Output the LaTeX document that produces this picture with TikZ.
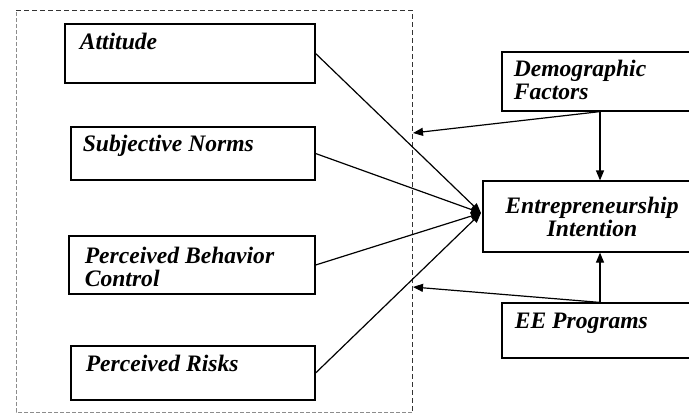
\documentclass[tikz,border=0pt]{standalone}
\usepackage{fontspec}
\setmainfont{Liberation Serif}
\usetikzlibrary{arrows.meta}

\tikzset{
	box/.style={draw, line width=0.6pt, inner sep=0pt},
	boxtext/.style={anchor=north west, inner sep=0pt, align=left,
		font=\fontsize{11.8}{11.5}\selectfont\bfseries\itshape},
	flow/.style={line width=0.6pt, -{Triangle[length=5pt,width=4pt]}},
}

\begin{document}
\begin{tikzpicture}[x=0.5pt, y=-0.5pt]
	\useasboundingbox (0,0) rectangle (689,414);
	\clip (0,0) rectangle (689,414);

	% dashed frame round the four factors
	\draw[black!45, dashed, dash pattern=on 2pt off 1pt, line width=0.5pt] (412,412) -- (16,412) -- (16,10);
	\draw[black!80, dashed, dash pattern=on 2.5pt off 1.5pt, line width=0.5pt] (16,10) -- (412,10) -- (412,412);

	% left boxes
	\node[box, minimum width=125pt, minimum height=29.5pt] (att) at (190,53.5) {};
	\node[boxtext] (att-t) at ([shift={(15,9)}]att.north west) {Attitude};

	\node[box, minimum width=122pt, minimum height=26.5pt] (sn) at (193,153.5) {};
	\node[boxtext] (sn-t) at ([shift={(12,8)}]sn.north west) {Subjective Norms};

	\node[box, minimum width=123pt, minimum height=29pt] (pbc) at (192,265) {};
	\node[boxtext] (pbc-t) at ([shift={(16,11)}]pbc.north west) {Perceived Behavior\\Control};

	\node[box, minimum width=122pt, minimum height=27pt] (pr) at (193,373) {};
	\node[boxtext] (pr-t) at ([shift={(15,9)}]pr.north west) {Perceived Risks};

	% right boxes
	\node[box, minimum width=98pt, minimum height=29.5pt] (demo) at (600,81.5) {};
	\node[boxtext] (demo-t) at ([shift={(12,8)}]demo.north west) {Demographic\\Factors};

	\node[box, minimum width=109pt, minimum height=35.5pt, align=center,
		font=\fontsize{11.8}{11.5}\selectfont\bfseries\itshape] (ei) at (592,216.5) {Entrepreneurship\\Intention};

	\node[box, minimum width=98pt, minimum height=27.5pt] (ee) at (600,330.5) {};
	\node[boxtext] (ee-t) at ([shift={(13,10)}]ee.north west) {EE Programs};

	% where the arrows meet
	\coordinate (hub) at (481,213);
	\coordinate (demo-in) at (413,133);
	\coordinate (ee-in) at (413,287);

	\draw[flow] (att.east) -- (hub);
	\draw[flow] (sn.east) -- (hub);
	\draw[flow] (pbc.east) -- (hub);
	\draw[flow] (pr.east) -- (hub);

	\draw[flow] (demo.south) -- (demo.south |- ei.north);
	\draw[flow] (demo.south) -- (demo-in);

	\draw[flow] (ee.north) -- (ee.north |- ei.south);
	\draw[flow] (ee.north) -- (ee-in);

\end{tikzpicture}
\end{document}
